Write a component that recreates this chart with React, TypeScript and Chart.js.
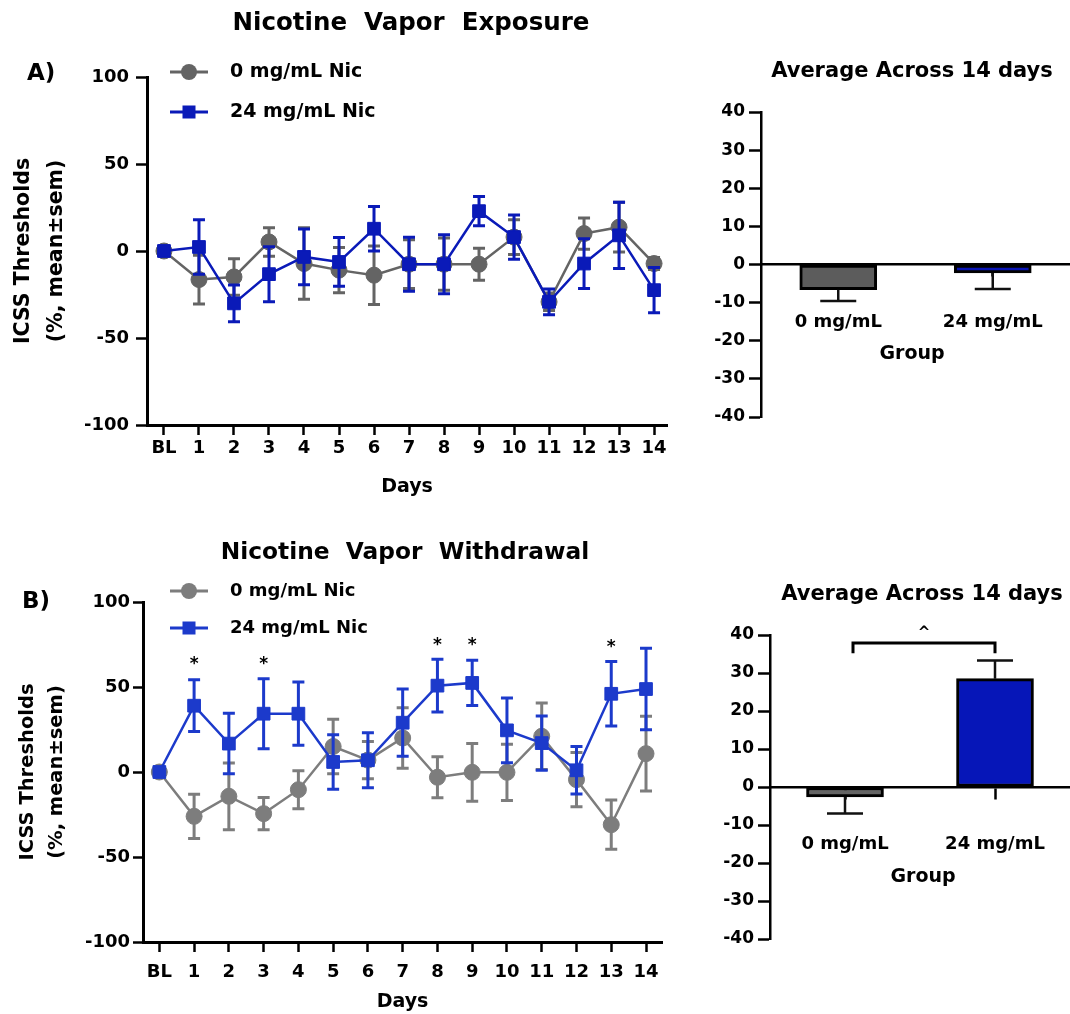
import React, { useEffect, useRef } from "react";
import { Chart, registerables } from "chart.js";

Chart.register(...registerables);

const FONT = "'DejaVu Sans', 'Liberation Sans', sans-serif";

// ---------- data ----------
const dayLabels = ["BL", "1", "2", "3", "4", "5", "6", "7", "8", "9", "10", "11", "12", "13", "14"];
const dayIndex = [0, 1, 2, 3, 4, 5, 6, 7, 8, 9, 10, 11, 12, 13, 14];
const lineTicks = [-100, -50, 0, 50, 100];
const seriesNames = ["0 mg/mL Nic", "24 mg/mL Nic"];

const exposureCtrlMean = [0, -16.4, -14.9, 5.2, -7.2, -11, -13.9, -7.6, -7.6, -7.6, 8, -29.2, 10, 13.7, -7.2];
const exposureCtrlSem = [0, 14, 10.5, 8.2, 20.6, 13, 16.8, 14, 15, 9.2, 10, 5, 9, 14.3, 3.5];
const exposureNicMean = [0, 2.3, -30.1, -13.3, -3.4, -6.3, 12.8, -7.6, -7.6, 22.9, 8, -29.2, -7.2, 9, -22.5];
const exposureNicSem = [0, 15.7, 10.5, 15.8, 16, 14, 12.8, 15.5, 17, 8.4, 12.7, 7.4, 14.3, 19, 13];

const withdrawalCtrlMean = [0, -26.1, -14.3, -24.5, -10.4, 15, 7, 20, -3.1, -0.2, -0.2, 21, -4.5, -31, 10.8];
const withdrawalCtrlSem = [0, 13, 19.6, 9.5, 11.2, 16, 11, 17.8, 12, 17, 16.5, 19.6, 16, 14.5, 22];
const withdrawalNicMean = [0, 39, 16.7, 34.3, 34.3, 5.9, 6.9, 29, 50.8, 52.4, 24.5, 17, 1, 46, 48.8];
const withdrawalNicSem = [0, 15.2, 17.8, 20.6, 18.6, 16, 16.2, 19.8, 15.5, 13.3, 19, 16, 14, 19, 24];
const withdrawalStarDays = [1, 3, 8, 9, 13];
const withdrawalStarLevels = [65, 65, 76, 76, 75];

const groupLabels = ["0 mg/mL", "24 mg/mL"];
const barTicks = [-40, -30, -20, -10, 0, 10, 20, 30, 40];
const exposureAvgMean = [-6.6, -2.2];
const exposureAvgSem = [3.0, 4.2];
const withdrawalAvgMean = [-2.6, 28.5];
const withdrawalAvgSem = [4.4, 4.8];
const withdrawalBracketLevel = 37.9;
const withdrawalBracketEnd = 35.2;
const withdrawalCaretLevel = 41.5;

// ---------- plugins ----------
const lineErrorPlugin = {
  id: "lineErrors",
  beforeDatasetDraw(chart: any, args: any) {
    const ds: any = chart.data.datasets[args.index];
    if (!ds.errors) return;
    const meta = args.meta;
    const yScale = chart.scales[meta.yAxisID];
    const ctx = chart.ctx;
    ctx.save();
    ctx.strokeStyle = ds.borderColor;
    ctx.lineWidth = 3;
    ctx.lineCap = "butt";
    meta.data.forEach((pt: any, i: number) => {
      const e = ds.errors[i];
      if (!e) return;
      const v = ds.data[i].y;
      const yt = yScale.getPixelForValue(v + e);
      const yb = yScale.getPixelForValue(v - e);
      const cw = 6;
      ctx.beginPath();
      ctx.moveTo(pt.x, yt);
      ctx.lineTo(pt.x, yb);
      ctx.moveTo(pt.x - cw, yt);
      ctx.lineTo(pt.x + cw, yt);
      ctx.moveTo(pt.x - cw, yb);
      ctx.lineTo(pt.x + cw, yb);
      ctx.stroke();
    });
    ctx.restore();
  },
};

const barErrorPlugin = {
  id: "barErrors",
  afterDatasetsDraw(chart: any) {
    const ctx = chart.ctx;
    chart.data.datasets.forEach((ds: any, di: number) => {
      if (!ds.errors) return;
      const meta = chart.getDatasetMeta(di);
      const yScale = chart.scales[meta.yAxisID];
      ctx.save();
      ctx.strokeStyle = "#111";
      ctx.lineWidth = 2.5;
      meta.data.forEach((bar: any, i: number) => {
        const v = ds.data[i];
        const e = ds.errors[i];
        const end = v >= 0 ? v + e : v - e;
        const y0 = yScale.getPixelForValue(v);
        const y1 = yScale.getPixelForValue(end);
        const cw = 18;
        ctx.beginPath();
        ctx.moveTo(bar.x, y0);
        ctx.lineTo(bar.x, y1);
        ctx.moveTo(bar.x - cw, y1);
        ctx.lineTo(bar.x + cw, y1);
        ctx.stroke();
      });
      ctx.restore();
    });
  },
};

function drawText(ctx: any, text: string, x: number, y: number, size: number, align: string, color = "#000") {
  ctx.save();
  ctx.font = `bold ${size}px ${FONT}`;
  ctx.fillStyle = color;
  ctx.textAlign = align;
  ctx.textBaseline = "middle";
  ctx.fillText(text, x, y);
  ctx.restore();
}

function drawLegend(chart: any, rows: number[], textSize: number) {
  const ctx = chart.ctx;
  [0, 1].forEach((di, k) => {
    const ds: any = chart.data.datasets[di];
    const y = rows[k];
    ctx.save();
    ctx.strokeStyle = ds.borderColor;
    ctx.fillStyle = ds.borderColor;
    ctx.lineWidth = 3;
    ctx.beginPath();
    ctx.moveTo(170, y);
    ctx.lineTo(208, y);
    ctx.stroke();
    if (ds.pointStyle === "rect") {
      ctx.fillRect(189 - 6.5, y - 6.5, 13, 13);
    } else {
      ctx.beginPath();
      ctx.arc(189, y, 8, 0, Math.PI * 2);
      ctx.fill();
    }
    ctx.restore();
    drawText(ctx, ds.label, 230, y, textSize, "left");
  });
}

// ---------- configs ----------
function lineConfig(p: any) {
  const yTitleFont = { family: FONT, weight: "bold", size: p.yTitleSize, lineHeight: p.yTitleLH };
  return {
    type: "line",
    data: {
      datasets: [
        {
          label: seriesNames[0],
          data: dayIndex.map((d, i) => ({ x: d, y: p.ctrlMean[i] })),
          errors: p.ctrlSem,
          borderColor: p.ctrlColor,
          backgroundColor: p.ctrlColor,
          pointBackgroundColor: p.ctrlColor,
          pointBorderColor: p.ctrlColor,
          pointStyle: "circle",
          pointRadius: 8,
          pointBorderWidth: 1,
          borderWidth: 2.5,
          tension: 0,
          order: 2,
        },
        {
          label: seriesNames[1],
          data: dayIndex.map((d, i) => ({ x: d, y: p.nicMean[i] })),
          errors: p.nicSem,
          borderColor: p.nicColor,
          backgroundColor: p.nicColor,
          pointBackgroundColor: p.nicColor,
          pointBorderColor: p.nicColor,
          pointStyle: "rect",
          pointRadius: 9,
          pointBorderWidth: 1,
          borderWidth: 2.5,
          tension: 0,
          order: 1,
        },
      ],
    },
    options: {
      responsive: false,
      animation: false,
      layout: { padding: { left: 0, top: p.top, right: p.w - p.right, bottom: 0 } },
      plugins: { legend: { display: false }, tooltip: { enabled: false }, title: { display: false } },
      scales: {
        x: {
          type: "linear",
          min: p.xMin,
          max: p.xMax,
          afterBuildTicks: (s: any) => {
            s.ticks = dayIndex.map((v) => ({ value: v }));
          },
          afterFit: (s: any) => {
            s.height = p.h - p.bottom;
            s.paddingLeft = 0;
            s.paddingRight = 0;
          },
          ticks: {
            autoSkip: false,
            maxRotation: 0,
            padding: p.xTickPad,
            color: "#000",
            font: { family: FONT, weight: "bold", size: 18 },
            callback: (v: any) => dayLabels[v],
          },
          grid: { drawOnChartArea: false, tickLength: 10, tickWidth: 2.5, tickColor: "#000" },
          border: { color: "#000", width: 3 },
          title: {
            display: true,
            text: "Days",
            color: "#000",
            font: { family: FONT, weight: "bold", size: 19 },
            padding: { top: 0, bottom: p.daysPad },
          },
        },
        y: {
          min: -100,
          max: 100,
          afterBuildTicks: (s: any) => {
            s.ticks = lineTicks.map((v) => ({ value: v }));
          },
          afterFit: (s: any) => {
            s.width = p.left;
          },
          ticks: {
            padding: p.yTickPad,
            color: "#000",
            font: { family: FONT, weight: "bold", size: 18 },
          },
          grid: { drawOnChartArea: false, tickLength: p.yTickLen, tickWidth: 2.5, tickColor: "#000" },
          border: { color: "#000", width: 3 },
          title: {
            display: true,
            text: ["ICSS Thresholds", "(%, mean±sem)"],
            color: "#000",
            font: yTitleFont,
            padding: { top: p.yTitlePad, bottom: 0 },
          },
        },
      },
    },
    plugins: [
      lineErrorPlugin,
      {
        id: "overlay",
        afterDraw(chart: any) {
          const ctx = chart.ctx;
          drawText(ctx, p.title, p.titleX, p.titleY, p.titleSize, "center");
          drawText(ctx, p.panel, p.panelX, p.panelY, 23, "left");
          drawLegend(chart, p.legendRows, p.legendSize);
          if (p.starDays) {
            const xs = chart.scales.x;
            const ys = chart.scales.y;
            p.starDays.forEach((d: number, i: number) => {
              drawText(ctx, "*", xs.getPixelForValue(d), ys.getPixelForValue(p.starLevels[i]) + 3, 17, "center");
            });
          }
        },
      },
    ],
  };
}

function barConfig(p: any) {
  return {
    type: "bar",
    data: {
      labels: groupLabels,
      datasets: [
        {
          data: p.mean,
          errors: p.sem,
          backgroundColor: p.colors,
          borderColor: "#000",
          borderWidth: 3,
          borderSkipped: false,
          barThickness: 77,
        },
      ],
    },
    options: {
      responsive: false,
      animation: false,
      layout: { padding: { left: 0, top: p.top, right: 0, bottom: p.h - p.bottom } },
      plugins: { legend: { display: false }, tooltip: { enabled: false }, title: { display: false } },
      scales: {
        x: {
          position: { y: 0 },
          offset: true,
          afterFit: (s: any) => {
            s.paddingLeft = 0;
            s.paddingRight = 0;
          },
          ticks: {
            padding: 36,
            color: "#000",
            font: { family: FONT, weight: "bold", size: 18 },
          },
          grid: { offset: false, drawOnChartArea: false, tickLength: 11, tickWidth: 2.5, tickColor: "#000" },
          border: { color: "#000", width: 2.5 },
        },
        y: {
          min: -40,
          max: 40,
          afterBuildTicks: (s: any) => {
            s.ticks = barTicks.map((v) => ({ value: v }));
          },
          afterFit: (s: any) => {
            s.width = p.left;
          },
          ticks: {
            padding: 4,
            color: "#000",
            font: { family: FONT, weight: "bold", size: 17 },
          },
          grid: { drawOnChartArea: false, tickLength: 12, tickWidth: 2.5, tickColor: "#000" },
          border: { color: "#000", width: 2.5 },
        },
      },
    },
    plugins: [
      barErrorPlugin,
      {
        id: "overlay",
        afterDraw(chart: any) {
          const ctx = chart.ctx;
          drawText(ctx, "Average Across 14 days", p.titleX, p.titleY, 21, "center");
          drawText(ctx, "Group", p.groupX, p.groupY, 19, "center");
          if (p.bracket) {
            const xs = chart.scales.x;
            const ys = chart.scales.y;
            const x0 = xs.getPixelForValue(0) + 8;
            const x1 = xs.getPixelForValue(1);
            const yb = ys.getPixelForValue(withdrawalBracketLevel);
            const ye = ys.getPixelForValue(withdrawalBracketEnd);
            ctx.save();
            ctx.strokeStyle = "#000";
            ctx.lineWidth = 3;
            ctx.beginPath();
            ctx.moveTo(x0, ye);
            ctx.lineTo(x0, yb);
            ctx.lineTo(x1, yb);
            ctx.lineTo(x1, ye);
            ctx.stroke();
            ctx.restore();
            drawText(ctx, "^", (x0 + x1) / 2, ys.getPixelForValue(withdrawalCaretLevel) + 4, 15, "center");
          }
        },
      },
    ],
  };
}

function ChartCanvas(props: { left: number; top: number; width: number; height: number; make: () => any }) {
  const ref = useRef<HTMLCanvasElement | null>(null);
  useEffect(() => {
    const chart = new Chart(ref.current as HTMLCanvasElement, props.make());
    return () => chart.destroy();
  }, []);
  return (
    <canvas
      ref={ref}
      width={props.width}
      height={props.height}
      style={{ position: "absolute", left: props.left, top: props.top, width: props.width, height: props.height }}
    />
  );
}

export default function App() {
  return (
    <div style={{ position: "absolute", left: 0, top: 0, width: 1070, height: 1014, background: "#fff", overflow: "hidden" }}>
      <ChartCanvas
        left={0}
        top={0}
        width={700}
        height={500}
        make={() =>
          lineConfig({
            w: 700, h: 500, left: 147, right: 667, top: 77, bottom: 425,
            xMin: -0.485, xMax: 14.37,
            ctrlMean: exposureCtrlMean, ctrlSem: exposureCtrlSem,
            nicMean: exposureNicMean, nicSem: exposureNicSem,
            ctrlColor: "#646464", nicColor: "#0a1ab8",
            xTickPad: 3, yTickPad: 7, yTickLen: 11, daysPad: 2,
            yTitleSize: 20.5, yTitleLH: 1.62, yTitlePad: 7,
            title: "Nicotine  Vapor  Exposure", titleX: 411, titleY: 24, titleSize: 24.5,
            panel: "A)", panelX: 27, panelY: 74,
            legendRows: [72, 112], legendSize: 19,
          })
        }
      />
      <ChartCanvas
        left={690}
        top={0}
        width={380}
        height={500}
        make={() =>
          barConfig({
            h: 500, left: 71, top: 112, bottom: 417,
            mean: exposureAvgMean, sem: exposureAvgSem,
            colors: ["#5c5c5c", "#0a14b4"],
            titleX: 222, titleY: 72, groupX: 222, groupY: 354, bracket: false,
          })
        }
      />
      <ChartCanvas
        left={0}
        top={520}
        width={700}
        height={494}
        make={() =>
          lineConfig({
            w: 700, h: 494, left: 143, right: 662, top: 82, bottom: 422,
            xMin: -0.47, xMax: 14.46,
            ctrlMean: withdrawalCtrlMean, ctrlSem: withdrawalCtrlSem,
            nicMean: withdrawalNicMean, nicSem: withdrawalNicSem,
            ctrlColor: "#7d7d7d", nicColor: "#1c3acb",
            xTickPad: 10, yTickPad: 3, yTickLen: 10, daysPad: 1,
            yTitleSize: 19.5, yTitleLH: 1.5, yTitlePad: 13,
            title: "Nicotine  Vapor  Withdrawal", titleX: 405, titleY: 33, titleSize: 23.3,
            panel: "B)", panelX: 22, panelY: 82,
            legendRows: [71, 108], legendSize: 18,
            starDays: withdrawalStarDays, starLevels: withdrawalStarLevels,
          })
        }
      />
      <ChartCanvas
        left={690}
        top={520}
        width={380}
        height={494}
        make={() =>
          barConfig({
            h: 494, left: 80, top: 115, bottom: 419,
            mean: withdrawalAvgMean, sem: withdrawalAvgSem,
            colors: ["#646464", "#0616b8"],
            titleX: 232, titleY: 75, groupX: 233, groupY: 357, bracket: true,
          })
        }
      />
    </div>
  );
}
